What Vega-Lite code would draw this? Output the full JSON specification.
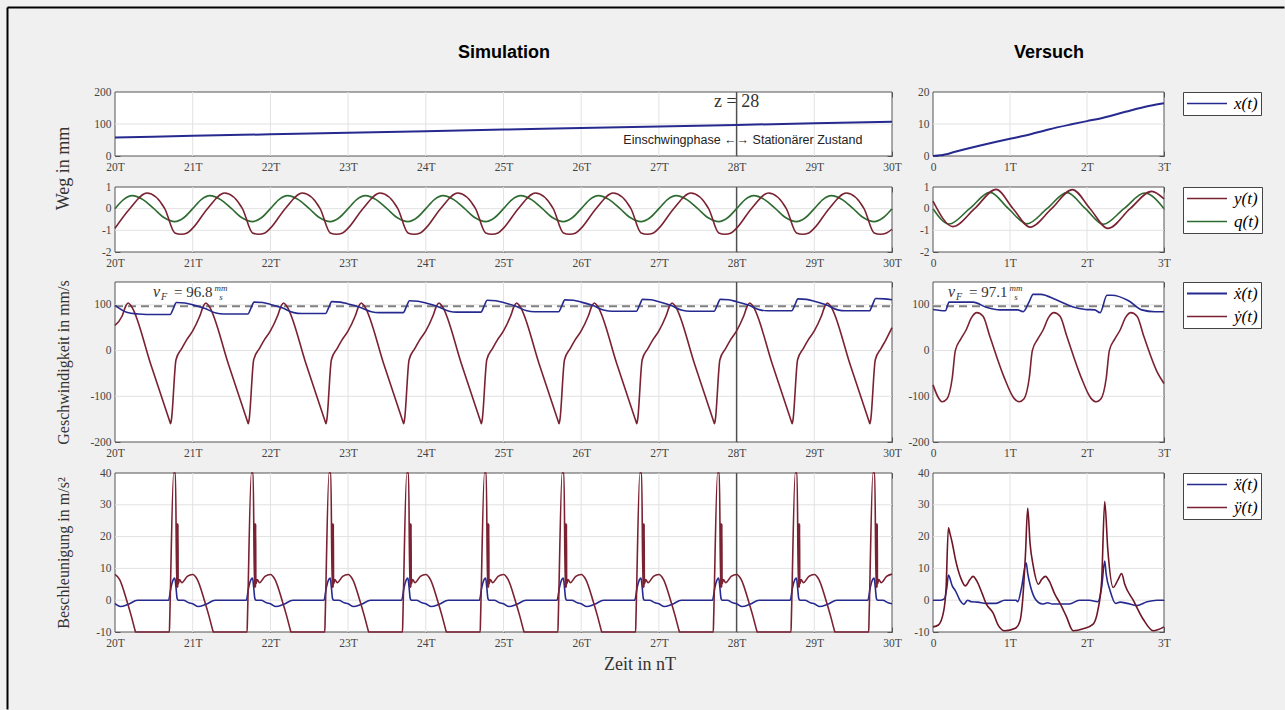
{
"$schema": "https://vega.github.io/schema/vega-lite/v6.json",
"width": 1285, "height": 710,
"autosize": {"type": "fit", "contains": "padding"},
"padding": 0,
"background": "#f0f0f0",
"config": {
  "view": {"stroke": null},
  "axis": {"domain": false, "grid": false, "labelFont": "Liberation Serif", "labelFontSize": 11.5, "labelColor": "#444", "tickColor": "#555", "tickSize": -5, "tickWidth": 1, "labelPadding": 9, "zindex": 1, "labelFlush": false, "labelOverlap": false, "titleFont": "Liberation Serif", "titleFontWeight": "normal", "titleFontSize": 17, "titleColor": "#333", "titleBaseline": "alphabetic"},
  "axisBottom": {"labelPadding": 10},
  "line": {"interpolate": "monotone", "strokeWidth": 1.6},
  "legend": {"orient": "none", "title": null, "symbolType": "stroke", "symbolSize": 1600, "symbolStrokeWidth": 2, "clipHeight": 17, "rowPadding": 5, "padding": 3, "labelOffset": 6, "symbolOffset": 0, "strokeColor": "#444", "fillColor": "white", "labelFont": "Liberation Serif", "labelFontStyle": "italic", "labelFontSize": 17, "labelColor": "#000", "legendX": 1183}
},
"resolve": {"scale": {"x": "independent", "y": "independent", "color": "independent", "strokeWidth": "independent"}},
"datasets": {
  "gxL": [{"t":21},{"t":22},{"t":23},{"t":24},{"t":25},{"t":26},{"t":27},{"t":28},{"t":29}],
  "gxR": [{"t":1},{"t":2}],
  "L1": [{"s":"x(t)","t":20,"v":58},{"s":"x(t)","t":21,"v":62.9},{"s":"x(t)","t":22,"v":67.8},{"s":"x(t)","t":23,"v":72.7},{"s":"x(t)","t":24,"v":77.6},{"s":"x(t)","t":25,"v":82.5},{"s":"x(t)","t":26,"v":87.4},{"s":"x(t)","t":27,"v":92.3},{"s":"x(t)","t":28,"v":97.2},{"s":"x(t)","t":29,"v":102.1},{"s":"x(t)","t":30,"v":107}],
  "R1": [{"s":"x(t)","t":0,"v":0},{"s":"x(t)","t":0.1,"v":0.2},{"s":"x(t)","t":0.3,"v":1.4},{"s":"x(t)","t":0.6,"v":3.2},{"s":"x(t)","t":1,"v":5.4},{"s":"x(t)","t":1.2,"v":6.4},{"s":"x(t)","t":1.5,"v":8.3},{"s":"x(t)","t":1.8,"v":9.9},{"s":"x(t)","t":2,"v":10.9},{"s":"x(t)","t":2.2,"v":11.9},{"s":"x(t)","t":2.5,"v":13.8},{"s":"x(t)","t":2.8,"v":15.6},{"s":"x(t)","t":3,"v":16.5}],
  "L2": [
{"s":"q(t)","t":20,"v":0},{"s":"q(t)","t":20.11,"v":0.42},{"s":"q(t)","t":20.22,"v":0.6},{"s":"q(t)","t":20.36,"v":0.42},{"s":"q(t)","t":20.5,"v":0},{"s":"q(t)","t":20.635,"v":-0.42},{"s":"q(t)","t":20.77,"v":-0.6},{"s":"q(t)","t":20.885,"v":-0.42},
{"s":"q(t)","t":21,"v":0},{"s":"q(t)","t":21.11,"v":0.42},{"s":"q(t)","t":21.22,"v":0.6},{"s":"q(t)","t":21.36,"v":0.42},{"s":"q(t)","t":21.5,"v":0},{"s":"q(t)","t":21.635,"v":-0.42},{"s":"q(t)","t":21.77,"v":-0.6},{"s":"q(t)","t":21.885,"v":-0.42},
{"s":"q(t)","t":22,"v":0},{"s":"q(t)","t":22.11,"v":0.42},{"s":"q(t)","t":22.22,"v":0.6},{"s":"q(t)","t":22.36,"v":0.42},{"s":"q(t)","t":22.5,"v":0},{"s":"q(t)","t":22.635,"v":-0.42},{"s":"q(t)","t":22.77,"v":-0.6},{"s":"q(t)","t":22.885,"v":-0.42},
{"s":"q(t)","t":23,"v":0},{"s":"q(t)","t":23.11,"v":0.42},{"s":"q(t)","t":23.22,"v":0.6},{"s":"q(t)","t":23.36,"v":0.42},{"s":"q(t)","t":23.5,"v":0},{"s":"q(t)","t":23.635,"v":-0.42},{"s":"q(t)","t":23.77,"v":-0.6},{"s":"q(t)","t":23.885,"v":-0.42},
{"s":"q(t)","t":24,"v":0},{"s":"q(t)","t":24.11,"v":0.42},{"s":"q(t)","t":24.22,"v":0.6},{"s":"q(t)","t":24.36,"v":0.42},{"s":"q(t)","t":24.5,"v":0},{"s":"q(t)","t":24.635,"v":-0.42},{"s":"q(t)","t":24.77,"v":-0.6},{"s":"q(t)","t":24.885,"v":-0.42},
{"s":"q(t)","t":25,"v":0},{"s":"q(t)","t":25.11,"v":0.42},{"s":"q(t)","t":25.22,"v":0.6},{"s":"q(t)","t":25.36,"v":0.42},{"s":"q(t)","t":25.5,"v":0},{"s":"q(t)","t":25.635,"v":-0.42},{"s":"q(t)","t":25.77,"v":-0.6},{"s":"q(t)","t":25.885,"v":-0.42},
{"s":"q(t)","t":26,"v":0},{"s":"q(t)","t":26.11,"v":0.42},{"s":"q(t)","t":26.22,"v":0.6},{"s":"q(t)","t":26.36,"v":0.42},{"s":"q(t)","t":26.5,"v":0},{"s":"q(t)","t":26.635,"v":-0.42},{"s":"q(t)","t":26.77,"v":-0.6},{"s":"q(t)","t":26.885,"v":-0.42},
{"s":"q(t)","t":27,"v":0},{"s":"q(t)","t":27.11,"v":0.42},{"s":"q(t)","t":27.22,"v":0.6},{"s":"q(t)","t":27.36,"v":0.42},{"s":"q(t)","t":27.5,"v":0},{"s":"q(t)","t":27.635,"v":-0.42},{"s":"q(t)","t":27.77,"v":-0.6},{"s":"q(t)","t":27.885,"v":-0.42},
{"s":"q(t)","t":28,"v":0},{"s":"q(t)","t":28.11,"v":0.42},{"s":"q(t)","t":28.22,"v":0.6},{"s":"q(t)","t":28.36,"v":0.42},{"s":"q(t)","t":28.5,"v":0},{"s":"q(t)","t":28.635,"v":-0.42},{"s":"q(t)","t":28.77,"v":-0.6},{"s":"q(t)","t":28.885,"v":-0.42},
{"s":"q(t)","t":29,"v":0},{"s":"q(t)","t":29.11,"v":0.42},{"s":"q(t)","t":29.22,"v":0.6},{"s":"q(t)","t":29.36,"v":0.42},{"s":"q(t)","t":29.5,"v":0},{"s":"q(t)","t":29.635,"v":-0.42},{"s":"q(t)","t":29.77,"v":-0.6},{"s":"q(t)","t":29.885,"v":-0.42},
{"s":"q(t)","t":30,"v":0},
{"s":"y(t)","t":20,"v":-0.9},{"s":"y(t)","t":20.19,"v":0},{"s":"y(t)","t":20.41,"v":0.72},{"s":"y(t)","t":20.64,"v":0},{"s":"y(t)","t":20.77,"v":-1.12},{"s":"y(t)","t":20.85,"v":-1.18},{"s":"y(t)","t":20.93,"v":-1.12},
{"s":"y(t)","t":21,"v":-0.9},{"s":"y(t)","t":21.19,"v":0},{"s":"y(t)","t":21.41,"v":0.72},{"s":"y(t)","t":21.64,"v":0},{"s":"y(t)","t":21.77,"v":-1.12},{"s":"y(t)","t":21.85,"v":-1.18},{"s":"y(t)","t":21.93,"v":-1.12},
{"s":"y(t)","t":22,"v":-0.9},{"s":"y(t)","t":22.19,"v":0},{"s":"y(t)","t":22.41,"v":0.72},{"s":"y(t)","t":22.64,"v":0},{"s":"y(t)","t":22.77,"v":-1.12},{"s":"y(t)","t":22.85,"v":-1.18},{"s":"y(t)","t":22.93,"v":-1.12},
{"s":"y(t)","t":23,"v":-0.9},{"s":"y(t)","t":23.19,"v":0},{"s":"y(t)","t":23.41,"v":0.72},{"s":"y(t)","t":23.64,"v":0},{"s":"y(t)","t":23.77,"v":-1.12},{"s":"y(t)","t":23.85,"v":-1.18},{"s":"y(t)","t":23.93,"v":-1.12},
{"s":"y(t)","t":24,"v":-0.9},{"s":"y(t)","t":24.19,"v":0},{"s":"y(t)","t":24.41,"v":0.72},{"s":"y(t)","t":24.64,"v":0},{"s":"y(t)","t":24.77,"v":-1.12},{"s":"y(t)","t":24.85,"v":-1.18},{"s":"y(t)","t":24.93,"v":-1.12},
{"s":"y(t)","t":25,"v":-0.9},{"s":"y(t)","t":25.19,"v":0},{"s":"y(t)","t":25.41,"v":0.72},{"s":"y(t)","t":25.64,"v":0},{"s":"y(t)","t":25.77,"v":-1.12},{"s":"y(t)","t":25.85,"v":-1.18},{"s":"y(t)","t":25.93,"v":-1.12},
{"s":"y(t)","t":26,"v":-0.9},{"s":"y(t)","t":26.19,"v":0},{"s":"y(t)","t":26.41,"v":0.72},{"s":"y(t)","t":26.64,"v":0},{"s":"y(t)","t":26.77,"v":-1.12},{"s":"y(t)","t":26.85,"v":-1.18},{"s":"y(t)","t":26.93,"v":-1.12},
{"s":"y(t)","t":27,"v":-0.9},{"s":"y(t)","t":27.19,"v":0},{"s":"y(t)","t":27.41,"v":0.72},{"s":"y(t)","t":27.64,"v":0},{"s":"y(t)","t":27.77,"v":-1.12},{"s":"y(t)","t":27.85,"v":-1.18},{"s":"y(t)","t":27.93,"v":-1.12},
{"s":"y(t)","t":28,"v":-0.9},{"s":"y(t)","t":28.19,"v":0},{"s":"y(t)","t":28.41,"v":0.72},{"s":"y(t)","t":28.64,"v":0},{"s":"y(t)","t":28.77,"v":-1.12},{"s":"y(t)","t":28.85,"v":-1.18},{"s":"y(t)","t":28.93,"v":-1.12},
{"s":"y(t)","t":29,"v":-0.9},{"s":"y(t)","t":29.19,"v":0},{"s":"y(t)","t":29.41,"v":0.72},{"s":"y(t)","t":29.64,"v":0},{"s":"y(t)","t":29.77,"v":-1.12},{"s":"y(t)","t":29.85,"v":-1.18},{"s":"y(t)","t":29.93,"v":-1.12},
{"s":"y(t)","t":30,"v":-0.95}],
  "R2": [
{"s":"q(t)","t":0,"v":0},{"s":"q(t)","t":0.21,"v":-0.71},{"s":"q(t)","t":0.475,"v":0},{"s":"q(t)","t":0.74,"v":0.75},{"s":"q(t)","t":0.98,"v":0},{"s":"q(t)","t":1.22,"v":-0.7},{"s":"q(t)","t":1.48,"v":0},{"s":"q(t)","t":1.74,"v":0.74},{"s":"q(t)","t":1.98,"v":0},{"s":"q(t)","t":2.21,"v":-0.72},{"s":"q(t)","t":2.48,"v":0},{"s":"q(t)","t":2.75,"v":0.72},{"s":"q(t)","t":3,"v":0},
{"s":"y(t)","t":0,"v":0.35},{"s":"y(t)","t":0.26,"v":-0.83},{"s":"y(t)","t":0.54,"v":0},{"s":"y(t)","t":0.82,"v":0.89},{"s":"y(t)","t":1.04,"v":0},{"s":"y(t)","t":1.26,"v":-0.85},{"s":"y(t)","t":1.54,"v":0},{"s":"y(t)","t":1.81,"v":0.88},{"s":"y(t)","t":2.04,"v":0},{"s":"y(t)","t":2.27,"v":-0.91},{"s":"y(t)","t":2.56,"v":0},{"s":"y(t)","t":2.84,"v":0.8},{"s":"y(t)","t":3,"v":0.45}],
  "L3": [
{"s":"ẏ(t)","t":20,"v":55},{"s":"ẏ(t)","t":20.09,"v":75},{"s":"ẏ(t)","t":20.14,"v":98},{"s":"ẏ(t)","t":20.17,"v":104},{"s":"ẏ(t)","t":20.21,"v":97},{"s":"ẏ(t)","t":20.46,"v":-30},{"s":"ẏ(t)","t":20.705,"v":-155},{"s":"ẏ(t)","t":20.715,"v":-160},{"s":"ẏ(t)","t":20.727,"v":-150},{"s":"ẏ(t)","t":20.785,"v":-20},{"s":"ẏ(t)","t":20.86,"v":5},{"s":"ẏ(t)","t":20.92,"v":23},
{"s":"ẏ(t)","t":21,"v":43},{"s":"ẏ(t)","t":21.09,"v":75},{"s":"ẏ(t)","t":21.14,"v":98},{"s":"ẏ(t)","t":21.17,"v":104},{"s":"ẏ(t)","t":21.21,"v":97},{"s":"ẏ(t)","t":21.46,"v":-30},{"s":"ẏ(t)","t":21.705,"v":-155},{"s":"ẏ(t)","t":21.715,"v":-160},{"s":"ẏ(t)","t":21.727,"v":-150},{"s":"ẏ(t)","t":21.785,"v":-20},{"s":"ẏ(t)","t":21.86,"v":5},{"s":"ẏ(t)","t":21.92,"v":23},
{"s":"ẏ(t)","t":22,"v":43},{"s":"ẏ(t)","t":22.09,"v":75},{"s":"ẏ(t)","t":22.14,"v":98},{"s":"ẏ(t)","t":22.17,"v":104},{"s":"ẏ(t)","t":22.21,"v":97},{"s":"ẏ(t)","t":22.46,"v":-30},{"s":"ẏ(t)","t":22.705,"v":-155},{"s":"ẏ(t)","t":22.715,"v":-160},{"s":"ẏ(t)","t":22.727,"v":-150},{"s":"ẏ(t)","t":22.785,"v":-20},{"s":"ẏ(t)","t":22.86,"v":5},{"s":"ẏ(t)","t":22.92,"v":23},
{"s":"ẏ(t)","t":23,"v":43},{"s":"ẏ(t)","t":23.09,"v":75},{"s":"ẏ(t)","t":23.14,"v":98},{"s":"ẏ(t)","t":23.17,"v":104},{"s":"ẏ(t)","t":23.21,"v":97},{"s":"ẏ(t)","t":23.46,"v":-30},{"s":"ẏ(t)","t":23.705,"v":-155},{"s":"ẏ(t)","t":23.715,"v":-160},{"s":"ẏ(t)","t":23.727,"v":-150},{"s":"ẏ(t)","t":23.785,"v":-20},{"s":"ẏ(t)","t":23.86,"v":5},{"s":"ẏ(t)","t":23.92,"v":23},
{"s":"ẏ(t)","t":24,"v":43},{"s":"ẏ(t)","t":24.09,"v":75},{"s":"ẏ(t)","t":24.14,"v":98},{"s":"ẏ(t)","t":24.17,"v":104},{"s":"ẏ(t)","t":24.21,"v":97},{"s":"ẏ(t)","t":24.46,"v":-30},{"s":"ẏ(t)","t":24.705,"v":-155},{"s":"ẏ(t)","t":24.715,"v":-160},{"s":"ẏ(t)","t":24.727,"v":-150},{"s":"ẏ(t)","t":24.785,"v":-20},{"s":"ẏ(t)","t":24.86,"v":5},{"s":"ẏ(t)","t":24.92,"v":23},
{"s":"ẏ(t)","t":25,"v":43},{"s":"ẏ(t)","t":25.09,"v":75},{"s":"ẏ(t)","t":25.14,"v":98},{"s":"ẏ(t)","t":25.17,"v":104},{"s":"ẏ(t)","t":25.21,"v":97},{"s":"ẏ(t)","t":25.46,"v":-30},{"s":"ẏ(t)","t":25.705,"v":-155},{"s":"ẏ(t)","t":25.715,"v":-160},{"s":"ẏ(t)","t":25.727,"v":-150},{"s":"ẏ(t)","t":25.785,"v":-20},{"s":"ẏ(t)","t":25.86,"v":5},{"s":"ẏ(t)","t":25.92,"v":23},
{"s":"ẏ(t)","t":26,"v":43},{"s":"ẏ(t)","t":26.09,"v":75},{"s":"ẏ(t)","t":26.14,"v":98},{"s":"ẏ(t)","t":26.17,"v":104},{"s":"ẏ(t)","t":26.21,"v":97},{"s":"ẏ(t)","t":26.46,"v":-30},{"s":"ẏ(t)","t":26.705,"v":-155},{"s":"ẏ(t)","t":26.715,"v":-160},{"s":"ẏ(t)","t":26.727,"v":-150},{"s":"ẏ(t)","t":26.785,"v":-20},{"s":"ẏ(t)","t":26.86,"v":5},{"s":"ẏ(t)","t":26.92,"v":23},
{"s":"ẏ(t)","t":27,"v":43},{"s":"ẏ(t)","t":27.09,"v":75},{"s":"ẏ(t)","t":27.14,"v":98},{"s":"ẏ(t)","t":27.17,"v":104},{"s":"ẏ(t)","t":27.21,"v":97},{"s":"ẏ(t)","t":27.46,"v":-30},{"s":"ẏ(t)","t":27.705,"v":-155},{"s":"ẏ(t)","t":27.715,"v":-160},{"s":"ẏ(t)","t":27.727,"v":-150},{"s":"ẏ(t)","t":27.785,"v":-20},{"s":"ẏ(t)","t":27.86,"v":5},{"s":"ẏ(t)","t":27.92,"v":23},
{"s":"ẏ(t)","t":28,"v":43},{"s":"ẏ(t)","t":28.09,"v":75},{"s":"ẏ(t)","t":28.14,"v":98},{"s":"ẏ(t)","t":28.17,"v":104},{"s":"ẏ(t)","t":28.21,"v":97},{"s":"ẏ(t)","t":28.46,"v":-30},{"s":"ẏ(t)","t":28.705,"v":-155},{"s":"ẏ(t)","t":28.715,"v":-160},{"s":"ẏ(t)","t":28.727,"v":-150},{"s":"ẏ(t)","t":28.785,"v":-20},{"s":"ẏ(t)","t":28.86,"v":5},{"s":"ẏ(t)","t":28.92,"v":23},
{"s":"ẏ(t)","t":29,"v":43},{"s":"ẏ(t)","t":29.09,"v":75},{"s":"ẏ(t)","t":29.14,"v":98},{"s":"ẏ(t)","t":29.17,"v":104},{"s":"ẏ(t)","t":29.21,"v":97},{"s":"ẏ(t)","t":29.46,"v":-30},{"s":"ẏ(t)","t":29.705,"v":-155},{"s":"ẏ(t)","t":29.715,"v":-160},{"s":"ẏ(t)","t":29.727,"v":-150},{"s":"ẏ(t)","t":29.785,"v":-20},{"s":"ẏ(t)","t":29.86,"v":5},{"s":"ẏ(t)","t":29.92,"v":23},
{"s":"ẏ(t)","t":30,"v":50},
{"s":"ẋ(t)","t":20,"v":99},{"s":"ẋ(t)","t":20.15,"v":84},{"s":"ẋ(t)","t":20.3,"v":80},{"s":"ẋ(t)","t":20.4,"v":79},{"s":"ẋ(t)","t":20.71,"v":79},{"s":"ẋ(t)","t":20.75,"v":92},{"s":"ẋ(t)","t":20.79,"v":105},{"s":"ẋ(t)","t":20.9,"v":104},
{"s":"ẋ(t)","t":21,"v":100},{"s":"ẋ(t)","t":21.15,"v":92.5},{"s":"ẋ(t)","t":21.3,"v":82},{"s":"ẋ(t)","t":21.4,"v":80},{"s":"ẋ(t)","t":21.71,"v":80},{"s":"ẋ(t)","t":21.75,"v":93},{"s":"ẋ(t)","t":21.79,"v":106},{"s":"ẋ(t)","t":21.9,"v":105},
{"s":"ẋ(t)","t":22,"v":101},{"s":"ẋ(t)","t":22.15,"v":93.5},{"s":"ẋ(t)","t":22.3,"v":83},{"s":"ẋ(t)","t":22.4,"v":81},{"s":"ẋ(t)","t":22.71,"v":81},{"s":"ẋ(t)","t":22.75,"v":94},{"s":"ẋ(t)","t":22.79,"v":107},{"s":"ẋ(t)","t":22.9,"v":106},
{"s":"ẋ(t)","t":23,"v":102},{"s":"ẋ(t)","t":23.15,"v":95},{"s":"ẋ(t)","t":23.3,"v":85},{"s":"ẋ(t)","t":23.4,"v":83},{"s":"ẋ(t)","t":23.71,"v":83},{"s":"ẋ(t)","t":23.75,"v":96},{"s":"ẋ(t)","t":23.79,"v":109},{"s":"ẋ(t)","t":23.9,"v":108},
{"s":"ẋ(t)","t":24,"v":104},{"s":"ẋ(t)","t":24.15,"v":96.5},{"s":"ẋ(t)","t":24.3,"v":86},{"s":"ẋ(t)","t":24.4,"v":84},{"s":"ẋ(t)","t":24.71,"v":84},{"s":"ẋ(t)","t":24.75,"v":97},{"s":"ẋ(t)","t":24.79,"v":110},{"s":"ẋ(t)","t":24.9,"v":109},
{"s":"ẋ(t)","t":25,"v":105},{"s":"ẋ(t)","t":25.15,"v":97.5},{"s":"ẋ(t)","t":25.3,"v":87},{"s":"ẋ(t)","t":25.4,"v":85},{"s":"ẋ(t)","t":25.71,"v":85},{"s":"ẋ(t)","t":25.75,"v":98},{"s":"ẋ(t)","t":25.79,"v":111},{"s":"ẋ(t)","t":25.9,"v":110},
{"s":"ẋ(t)","t":26,"v":106},{"s":"ẋ(t)","t":26.15,"v":98.5},{"s":"ẋ(t)","t":26.3,"v":88},{"s":"ẋ(t)","t":26.4,"v":86},{"s":"ẋ(t)","t":26.71,"v":86},{"s":"ẋ(t)","t":26.75,"v":99},{"s":"ẋ(t)","t":26.79,"v":112},{"s":"ẋ(t)","t":26.9,"v":111},
{"s":"ẋ(t)","t":27,"v":107},{"s":"ẋ(t)","t":27.15,"v":99},{"s":"ẋ(t)","t":27.3,"v":88},{"s":"ẋ(t)","t":27.4,"v":86},{"s":"ẋ(t)","t":27.71,"v":86},{"s":"ẋ(t)","t":27.75,"v":99},{"s":"ẋ(t)","t":27.79,"v":112},{"s":"ẋ(t)","t":27.9,"v":111},
{"s":"ẋ(t)","t":28,"v":107},{"s":"ẋ(t)","t":28.15,"v":99.5},{"s":"ẋ(t)","t":28.3,"v":89},{"s":"ẋ(t)","t":28.4,"v":87},{"s":"ẋ(t)","t":28.71,"v":87},{"s":"ẋ(t)","t":28.75,"v":100},{"s":"ẋ(t)","t":28.79,"v":113},{"s":"ẋ(t)","t":28.9,"v":112},
{"s":"ẋ(t)","t":29,"v":108},{"s":"ẋ(t)","t":29.15,"v":100},{"s":"ẋ(t)","t":29.3,"v":89},{"s":"ẋ(t)","t":29.4,"v":87},{"s":"ẋ(t)","t":29.71,"v":87},{"s":"ẋ(t)","t":29.75,"v":100.5},{"s":"ẋ(t)","t":29.79,"v":114},{"s":"ẋ(t)","t":29.9,"v":113},
{"s":"ẋ(t)","t":30,"v":111}],
  "R3": [
{"s":"ẏ(t)","t":0,"v":-75},{"s":"ẏ(t)","t":0.12,"v":-112},{"s":"ẏ(t)","t":0.18,"v":-106},{"s":"ẏ(t)","t":0.25,"v":-60},{"s":"ẏ(t)","t":0.29,"v":0},{"s":"ẏ(t)","t":0.36,"v":25},{"s":"ẏ(t)","t":0.43,"v":45},{"s":"ẏ(t)","t":0.5,"v":72},{"s":"ẏ(t)","t":0.57,"v":83},{"s":"ẏ(t)","t":0.65,"v":75},{"s":"ẏ(t)","t":0.74,"v":30},{"s":"ẏ(t)","t":0.92,"v":-57},
{"s":"ẏ(t)","t":1.05,"v":-104},{"s":"ẏ(t)","t":1.12,"v":-112},{"s":"ẏ(t)","t":1.18,"v":-106},{"s":"ẏ(t)","t":1.25,"v":-60},{"s":"ẏ(t)","t":1.29,"v":0},{"s":"ẏ(t)","t":1.36,"v":25},{"s":"ẏ(t)","t":1.43,"v":45},{"s":"ẏ(t)","t":1.5,"v":72},{"s":"ẏ(t)","t":1.57,"v":83},{"s":"ẏ(t)","t":1.65,"v":75},{"s":"ẏ(t)","t":1.74,"v":30},{"s":"ẏ(t)","t":1.92,"v":-57},
{"s":"ẏ(t)","t":2.05,"v":-104},{"s":"ẏ(t)","t":2.12,"v":-112},{"s":"ẏ(t)","t":2.18,"v":-106},{"s":"ẏ(t)","t":2.25,"v":-60},{"s":"ẏ(t)","t":2.29,"v":0},{"s":"ẏ(t)","t":2.36,"v":25},{"s":"ẏ(t)","t":2.43,"v":45},{"s":"ẏ(t)","t":2.5,"v":72},{"s":"ẏ(t)","t":2.57,"v":83},{"s":"ẏ(t)","t":2.65,"v":75},{"s":"ẏ(t)","t":2.74,"v":30},{"s":"ẏ(t)","t":2.92,"v":-50},{"s":"ẏ(t)","t":3,"v":-72},
{"s":"ẋ(t)","t":0,"v":90},{"s":"ẋ(t)","t":0.16,"v":87},{"s":"ẋ(t)","t":0.21,"v":106},{"s":"ẋ(t)","t":0.52,"v":106},{"s":"ẋ(t)","t":0.69,"v":95},{"s":"ẋ(t)","t":0.87,"v":89},{"s":"ẋ(t)","t":1.1,"v":89},{"s":"ẋ(t)","t":1.17,"v":85},{"s":"ẋ(t)","t":1.25,"v":107},{"s":"ẋ(t)","t":1.3,"v":123},{"s":"ẋ(t)","t":1.4,"v":123},{"s":"ẋ(t)","t":1.6,"v":111},{"s":"ẋ(t)","t":1.81,"v":96},{"s":"ẋ(t)","t":1.98,"v":90},{"s":"ẋ(t)","t":2.1,"v":89},{"s":"ẋ(t)","t":2.17,"v":83},{"s":"ẋ(t)","t":2.26,"v":121},{"s":"ẋ(t)","t":2.32,"v":121},{"s":"ẋ(t)","t":2.54,"v":109},{"s":"ẋ(t)","t":2.71,"v":89},{"s":"ẋ(t)","t":2.88,"v":85},{"s":"ẋ(t)","t":3,"v":85}],
  "L4": [
{"s":"ẍ(t)","t":20,"v":-1.1},{"s":"ẍ(t)","t":20.07,"v":-2},{"s":"ẍ(t)","t":20.17,"v":-1.3},{"s":"ẍ(t)","t":20.29,"v":0},{"s":"ẍ(t)","t":20.69,"v":0},{"s":"ẍ(t)","t":20.72,"v":4},{"s":"ẍ(t)","t":20.75,"v":6.5},{"s":"ẍ(t)","t":20.77,"v":7},{"s":"ẍ(t)","t":20.785,"v":4},{"s":"ẍ(t)","t":20.8,"v":0.5},{"s":"ẍ(t)","t":20.815,"v":0},{"s":"ẍ(t)","t":20.88,"v":0},{"s":"ẍ(t)","t":20.95,"v":-0.8},
{"s":"ẍ(t)","t":21,"v":-1.1},{"s":"ẍ(t)","t":21.07,"v":-2},{"s":"ẍ(t)","t":21.17,"v":-1.3},{"s":"ẍ(t)","t":21.29,"v":0},{"s":"ẍ(t)","t":21.69,"v":0},{"s":"ẍ(t)","t":21.72,"v":4},{"s":"ẍ(t)","t":21.75,"v":6.5},{"s":"ẍ(t)","t":21.77,"v":7},{"s":"ẍ(t)","t":21.785,"v":4},{"s":"ẍ(t)","t":21.8,"v":0.5},{"s":"ẍ(t)","t":21.815,"v":0},{"s":"ẍ(t)","t":21.88,"v":0},{"s":"ẍ(t)","t":21.95,"v":-0.8},
{"s":"ẍ(t)","t":22,"v":-1.1},{"s":"ẍ(t)","t":22.07,"v":-2},{"s":"ẍ(t)","t":22.17,"v":-1.3},{"s":"ẍ(t)","t":22.29,"v":0},{"s":"ẍ(t)","t":22.69,"v":0},{"s":"ẍ(t)","t":22.72,"v":4},{"s":"ẍ(t)","t":22.75,"v":6.5},{"s":"ẍ(t)","t":22.77,"v":7},{"s":"ẍ(t)","t":22.785,"v":4},{"s":"ẍ(t)","t":22.8,"v":0.5},{"s":"ẍ(t)","t":22.815,"v":0},{"s":"ẍ(t)","t":22.88,"v":0},{"s":"ẍ(t)","t":22.95,"v":-0.8},
{"s":"ẍ(t)","t":23,"v":-1.1},{"s":"ẍ(t)","t":23.07,"v":-2},{"s":"ẍ(t)","t":23.17,"v":-1.3},{"s":"ẍ(t)","t":23.29,"v":0},{"s":"ẍ(t)","t":23.69,"v":0},{"s":"ẍ(t)","t":23.72,"v":4},{"s":"ẍ(t)","t":23.75,"v":6.5},{"s":"ẍ(t)","t":23.77,"v":7},{"s":"ẍ(t)","t":23.785,"v":4},{"s":"ẍ(t)","t":23.8,"v":0.5},{"s":"ẍ(t)","t":23.815,"v":0},{"s":"ẍ(t)","t":23.88,"v":0},{"s":"ẍ(t)","t":23.95,"v":-0.8},
{"s":"ẍ(t)","t":24,"v":-1.1},{"s":"ẍ(t)","t":24.07,"v":-2},{"s":"ẍ(t)","t":24.17,"v":-1.3},{"s":"ẍ(t)","t":24.29,"v":0},{"s":"ẍ(t)","t":24.69,"v":0},{"s":"ẍ(t)","t":24.72,"v":4},{"s":"ẍ(t)","t":24.75,"v":6.5},{"s":"ẍ(t)","t":24.77,"v":7},{"s":"ẍ(t)","t":24.785,"v":4},{"s":"ẍ(t)","t":24.8,"v":0.5},{"s":"ẍ(t)","t":24.815,"v":0},{"s":"ẍ(t)","t":24.88,"v":0},{"s":"ẍ(t)","t":24.95,"v":-0.8},
{"s":"ẍ(t)","t":25,"v":-1.1},{"s":"ẍ(t)","t":25.07,"v":-2},{"s":"ẍ(t)","t":25.17,"v":-1.3},{"s":"ẍ(t)","t":25.29,"v":0},{"s":"ẍ(t)","t":25.69,"v":0},{"s":"ẍ(t)","t":25.72,"v":4},{"s":"ẍ(t)","t":25.75,"v":6.5},{"s":"ẍ(t)","t":25.77,"v":7},{"s":"ẍ(t)","t":25.785,"v":4},{"s":"ẍ(t)","t":25.8,"v":0.5},{"s":"ẍ(t)","t":25.815,"v":0},{"s":"ẍ(t)","t":25.88,"v":0},{"s":"ẍ(t)","t":25.95,"v":-0.8},
{"s":"ẍ(t)","t":26,"v":-1.1},{"s":"ẍ(t)","t":26.07,"v":-2},{"s":"ẍ(t)","t":26.17,"v":-1.3},{"s":"ẍ(t)","t":26.29,"v":0},{"s":"ẍ(t)","t":26.69,"v":0},{"s":"ẍ(t)","t":26.72,"v":4},{"s":"ẍ(t)","t":26.75,"v":6.5},{"s":"ẍ(t)","t":26.77,"v":7},{"s":"ẍ(t)","t":26.785,"v":4},{"s":"ẍ(t)","t":26.8,"v":0.5},{"s":"ẍ(t)","t":26.815,"v":0},{"s":"ẍ(t)","t":26.88,"v":0},{"s":"ẍ(t)","t":26.95,"v":-0.8},
{"s":"ẍ(t)","t":27,"v":-1.1},{"s":"ẍ(t)","t":27.07,"v":-2},{"s":"ẍ(t)","t":27.17,"v":-1.3},{"s":"ẍ(t)","t":27.29,"v":0},{"s":"ẍ(t)","t":27.69,"v":0},{"s":"ẍ(t)","t":27.72,"v":4},{"s":"ẍ(t)","t":27.75,"v":6.5},{"s":"ẍ(t)","t":27.77,"v":7},{"s":"ẍ(t)","t":27.785,"v":4},{"s":"ẍ(t)","t":27.8,"v":0.5},{"s":"ẍ(t)","t":27.815,"v":0},{"s":"ẍ(t)","t":27.88,"v":0},{"s":"ẍ(t)","t":27.95,"v":-0.8},
{"s":"ẍ(t)","t":28,"v":-1.1},{"s":"ẍ(t)","t":28.07,"v":-2},{"s":"ẍ(t)","t":28.17,"v":-1.3},{"s":"ẍ(t)","t":28.29,"v":0},{"s":"ẍ(t)","t":28.69,"v":0},{"s":"ẍ(t)","t":28.72,"v":4},{"s":"ẍ(t)","t":28.75,"v":6.5},{"s":"ẍ(t)","t":28.77,"v":7},{"s":"ẍ(t)","t":28.785,"v":4},{"s":"ẍ(t)","t":28.8,"v":0.5},{"s":"ẍ(t)","t":28.815,"v":0},{"s":"ẍ(t)","t":28.88,"v":0},{"s":"ẍ(t)","t":28.95,"v":-0.8},
{"s":"ẍ(t)","t":29,"v":-1.1},{"s":"ẍ(t)","t":29.07,"v":-2},{"s":"ẍ(t)","t":29.17,"v":-1.3},{"s":"ẍ(t)","t":29.29,"v":0},{"s":"ẍ(t)","t":29.69,"v":0},{"s":"ẍ(t)","t":29.72,"v":4},{"s":"ẍ(t)","t":29.75,"v":6.5},{"s":"ẍ(t)","t":29.77,"v":7},{"s":"ẍ(t)","t":29.785,"v":4},{"s":"ẍ(t)","t":29.8,"v":0.5},{"s":"ẍ(t)","t":29.815,"v":0},{"s":"ẍ(t)","t":29.88,"v":0},{"s":"ẍ(t)","t":29.95,"v":-0.8},
{"s":"ẍ(t)","t":30,"v":-1.1},
{"s":"ÿ(t)","t":20,"v":8.1},{"s":"ÿ(t)","t":20.06,"v":6.5},{"s":"ÿ(t)","t":20.15,"v":0},{"s":"ÿ(t)","t":20.21,"v":-5},{"s":"ÿ(t)","t":20.26,"v":-9.6},{"s":"ÿ(t)","t":20.265,"v":-10},{"s":"ÿ(t)","t":20.7,"v":-10},{"s":"ÿ(t)","t":20.705,"v":-5.5},{"s":"ÿ(t)","t":20.755,"v":40},{"s":"ÿ(t)","t":20.778,"v":40},{"s":"ÿ(t)","t":20.795,"v":4},{"s":"ÿ(t)","t":20.798,"v":24},{"s":"ÿ(t)","t":20.801,"v":4},{"s":"ÿ(t)","t":20.804,"v":24},{"s":"ÿ(t)","t":20.807,"v":4},{"s":"ÿ(t)","t":20.81,"v":24},{"s":"ÿ(t)","t":20.813,"v":5},{"s":"ÿ(t)","t":20.83,"v":6.5},{"s":"ÿ(t)","t":20.86,"v":5.5},{"s":"ÿ(t)","t":20.93,"v":7.5},
{"s":"ÿ(t)","t":21,"v":8.1},{"s":"ÿ(t)","t":21.06,"v":6.5},{"s":"ÿ(t)","t":21.15,"v":0},{"s":"ÿ(t)","t":21.21,"v":-5},{"s":"ÿ(t)","t":21.26,"v":-9.6},{"s":"ÿ(t)","t":21.265,"v":-10},{"s":"ÿ(t)","t":21.7,"v":-10},{"s":"ÿ(t)","t":21.705,"v":-5.5},{"s":"ÿ(t)","t":21.755,"v":40},{"s":"ÿ(t)","t":21.778,"v":40},{"s":"ÿ(t)","t":21.795,"v":4},{"s":"ÿ(t)","t":21.798,"v":24},{"s":"ÿ(t)","t":21.801,"v":4},{"s":"ÿ(t)","t":21.804,"v":24},{"s":"ÿ(t)","t":21.807,"v":4},{"s":"ÿ(t)","t":21.81,"v":24},{"s":"ÿ(t)","t":21.813,"v":5},{"s":"ÿ(t)","t":21.83,"v":6.5},{"s":"ÿ(t)","t":21.86,"v":5.5},{"s":"ÿ(t)","t":21.93,"v":7.5},
{"s":"ÿ(t)","t":22,"v":8.1},{"s":"ÿ(t)","t":22.06,"v":6.5},{"s":"ÿ(t)","t":22.15,"v":0},{"s":"ÿ(t)","t":22.21,"v":-5},{"s":"ÿ(t)","t":22.26,"v":-9.6},{"s":"ÿ(t)","t":22.265,"v":-10},{"s":"ÿ(t)","t":22.7,"v":-10},{"s":"ÿ(t)","t":22.705,"v":-5.5},{"s":"ÿ(t)","t":22.755,"v":40},{"s":"ÿ(t)","t":22.778,"v":40},{"s":"ÿ(t)","t":22.795,"v":4},{"s":"ÿ(t)","t":22.798,"v":24},{"s":"ÿ(t)","t":22.801,"v":4},{"s":"ÿ(t)","t":22.804,"v":24},{"s":"ÿ(t)","t":22.807,"v":4},{"s":"ÿ(t)","t":22.81,"v":24},{"s":"ÿ(t)","t":22.813,"v":5},{"s":"ÿ(t)","t":22.83,"v":6.5},{"s":"ÿ(t)","t":22.86,"v":5.5},{"s":"ÿ(t)","t":22.93,"v":7.5},
{"s":"ÿ(t)","t":23,"v":8.1},{"s":"ÿ(t)","t":23.06,"v":6.5},{"s":"ÿ(t)","t":23.15,"v":0},{"s":"ÿ(t)","t":23.21,"v":-5},{"s":"ÿ(t)","t":23.26,"v":-9.6},{"s":"ÿ(t)","t":23.265,"v":-10},{"s":"ÿ(t)","t":23.7,"v":-10},{"s":"ÿ(t)","t":23.705,"v":-5.5},{"s":"ÿ(t)","t":23.755,"v":40},{"s":"ÿ(t)","t":23.778,"v":40},{"s":"ÿ(t)","t":23.795,"v":4},{"s":"ÿ(t)","t":23.798,"v":24},{"s":"ÿ(t)","t":23.801,"v":4},{"s":"ÿ(t)","t":23.804,"v":24},{"s":"ÿ(t)","t":23.807,"v":4},{"s":"ÿ(t)","t":23.81,"v":24},{"s":"ÿ(t)","t":23.813,"v":5},{"s":"ÿ(t)","t":23.83,"v":6.5},{"s":"ÿ(t)","t":23.86,"v":5.5},{"s":"ÿ(t)","t":23.93,"v":7.5},
{"s":"ÿ(t)","t":24,"v":8.1},{"s":"ÿ(t)","t":24.06,"v":6.5},{"s":"ÿ(t)","t":24.15,"v":0},{"s":"ÿ(t)","t":24.21,"v":-5},{"s":"ÿ(t)","t":24.26,"v":-9.6},{"s":"ÿ(t)","t":24.265,"v":-10},{"s":"ÿ(t)","t":24.7,"v":-10},{"s":"ÿ(t)","t":24.705,"v":-5.5},{"s":"ÿ(t)","t":24.755,"v":40},{"s":"ÿ(t)","t":24.778,"v":40},{"s":"ÿ(t)","t":24.795,"v":4},{"s":"ÿ(t)","t":24.798,"v":24},{"s":"ÿ(t)","t":24.801,"v":4},{"s":"ÿ(t)","t":24.804,"v":24},{"s":"ÿ(t)","t":24.807,"v":4},{"s":"ÿ(t)","t":24.81,"v":24},{"s":"ÿ(t)","t":24.813,"v":5},{"s":"ÿ(t)","t":24.83,"v":6.5},{"s":"ÿ(t)","t":24.86,"v":5.5},{"s":"ÿ(t)","t":24.93,"v":7.5},
{"s":"ÿ(t)","t":25,"v":8.1},{"s":"ÿ(t)","t":25.06,"v":6.5},{"s":"ÿ(t)","t":25.15,"v":0},{"s":"ÿ(t)","t":25.21,"v":-5},{"s":"ÿ(t)","t":25.26,"v":-9.6},{"s":"ÿ(t)","t":25.265,"v":-10},{"s":"ÿ(t)","t":25.7,"v":-10},{"s":"ÿ(t)","t":25.705,"v":-5.5},{"s":"ÿ(t)","t":25.755,"v":40},{"s":"ÿ(t)","t":25.778,"v":40},{"s":"ÿ(t)","t":25.795,"v":4},{"s":"ÿ(t)","t":25.798,"v":24},{"s":"ÿ(t)","t":25.801,"v":4},{"s":"ÿ(t)","t":25.804,"v":24},{"s":"ÿ(t)","t":25.807,"v":4},{"s":"ÿ(t)","t":25.81,"v":24},{"s":"ÿ(t)","t":25.813,"v":5},{"s":"ÿ(t)","t":25.83,"v":6.5},{"s":"ÿ(t)","t":25.86,"v":5.5},{"s":"ÿ(t)","t":25.93,"v":7.5},
{"s":"ÿ(t)","t":26,"v":8.1},{"s":"ÿ(t)","t":26.06,"v":6.5},{"s":"ÿ(t)","t":26.15,"v":0},{"s":"ÿ(t)","t":26.21,"v":-5},{"s":"ÿ(t)","t":26.26,"v":-9.6},{"s":"ÿ(t)","t":26.265,"v":-10},{"s":"ÿ(t)","t":26.7,"v":-10},{"s":"ÿ(t)","t":26.705,"v":-5.5},{"s":"ÿ(t)","t":26.755,"v":40},{"s":"ÿ(t)","t":26.778,"v":40},{"s":"ÿ(t)","t":26.795,"v":4},{"s":"ÿ(t)","t":26.798,"v":24},{"s":"ÿ(t)","t":26.801,"v":4},{"s":"ÿ(t)","t":26.804,"v":24},{"s":"ÿ(t)","t":26.807,"v":4},{"s":"ÿ(t)","t":26.81,"v":24},{"s":"ÿ(t)","t":26.813,"v":5},{"s":"ÿ(t)","t":26.83,"v":6.5},{"s":"ÿ(t)","t":26.86,"v":5.5},{"s":"ÿ(t)","t":26.93,"v":7.5},
{"s":"ÿ(t)","t":27,"v":8.1},{"s":"ÿ(t)","t":27.06,"v":6.5},{"s":"ÿ(t)","t":27.15,"v":0},{"s":"ÿ(t)","t":27.21,"v":-5},{"s":"ÿ(t)","t":27.26,"v":-9.6},{"s":"ÿ(t)","t":27.265,"v":-10},{"s":"ÿ(t)","t":27.7,"v":-10},{"s":"ÿ(t)","t":27.705,"v":-5.5},{"s":"ÿ(t)","t":27.755,"v":40},{"s":"ÿ(t)","t":27.778,"v":40},{"s":"ÿ(t)","t":27.795,"v":4},{"s":"ÿ(t)","t":27.798,"v":24},{"s":"ÿ(t)","t":27.801,"v":4},{"s":"ÿ(t)","t":27.804,"v":24},{"s":"ÿ(t)","t":27.807,"v":4},{"s":"ÿ(t)","t":27.81,"v":24},{"s":"ÿ(t)","t":27.813,"v":5},{"s":"ÿ(t)","t":27.83,"v":6.5},{"s":"ÿ(t)","t":27.86,"v":5.5},{"s":"ÿ(t)","t":27.93,"v":7.5},
{"s":"ÿ(t)","t":28,"v":8.1},{"s":"ÿ(t)","t":28.06,"v":6.5},{"s":"ÿ(t)","t":28.15,"v":0},{"s":"ÿ(t)","t":28.21,"v":-5},{"s":"ÿ(t)","t":28.26,"v":-9.6},{"s":"ÿ(t)","t":28.265,"v":-10},{"s":"ÿ(t)","t":28.7,"v":-10},{"s":"ÿ(t)","t":28.705,"v":-5.5},{"s":"ÿ(t)","t":28.755,"v":40},{"s":"ÿ(t)","t":28.778,"v":40},{"s":"ÿ(t)","t":28.795,"v":4},{"s":"ÿ(t)","t":28.798,"v":24},{"s":"ÿ(t)","t":28.801,"v":4},{"s":"ÿ(t)","t":28.804,"v":24},{"s":"ÿ(t)","t":28.807,"v":4},{"s":"ÿ(t)","t":28.81,"v":24},{"s":"ÿ(t)","t":28.813,"v":5},{"s":"ÿ(t)","t":28.83,"v":6.5},{"s":"ÿ(t)","t":28.86,"v":5.5},{"s":"ÿ(t)","t":28.93,"v":7.5},
{"s":"ÿ(t)","t":29,"v":8.1},{"s":"ÿ(t)","t":29.06,"v":6.5},{"s":"ÿ(t)","t":29.15,"v":0},{"s":"ÿ(t)","t":29.21,"v":-5},{"s":"ÿ(t)","t":29.26,"v":-9.6},{"s":"ÿ(t)","t":29.265,"v":-10},{"s":"ÿ(t)","t":29.7,"v":-10},{"s":"ÿ(t)","t":29.705,"v":-5.5},{"s":"ÿ(t)","t":29.755,"v":40},{"s":"ÿ(t)","t":29.778,"v":40},{"s":"ÿ(t)","t":29.795,"v":4},{"s":"ÿ(t)","t":29.798,"v":24},{"s":"ÿ(t)","t":29.801,"v":4},{"s":"ÿ(t)","t":29.804,"v":24},{"s":"ÿ(t)","t":29.807,"v":4},{"s":"ÿ(t)","t":29.81,"v":24},{"s":"ÿ(t)","t":29.813,"v":5},{"s":"ÿ(t)","t":29.83,"v":6.5},{"s":"ÿ(t)","t":29.86,"v":5.5},{"s":"ÿ(t)","t":29.93,"v":7.5},
{"s":"ÿ(t)","t":30,"v":8.2}],
  "R4": [
{"s":"ẍ(t)","t":0,"v":0},{"s":"ẍ(t)","t":0.1,"v":0},{"s":"ẍ(t)","t":0.15,"v":0.5},{"s":"ẍ(t)","t":0.18,"v":4},{"s":"ẍ(t)","t":0.2,"v":7.9},{"s":"ẍ(t)","t":0.25,"v":4.5},{"s":"ẍ(t)","t":0.29,"v":3},{"s":"ẍ(t)","t":0.36,"v":-0.4},{"s":"ẍ(t)","t":0.4,"v":-1.3},{"s":"ẍ(t)","t":0.45,"v":0},{"s":"ẍ(t)","t":0.5,"v":-0.5},{"s":"ẍ(t)","t":0.58,"v":-0.6},{"s":"ẍ(t)","t":0.69,"v":-1},{"s":"ẍ(t)","t":0.82,"v":-1},{"s":"ẍ(t)","t":0.93,"v":0},{"s":"ẍ(t)","t":1.08,"v":0},{"s":"ẍ(t)","t":1.1,"v":-0.5},{"s":"ẍ(t)","t":1.15,"v":4},{"s":"ẍ(t)","t":1.21,"v":11.8},{"s":"ẍ(t)","t":1.23,"v":8.4},{"s":"ẍ(t)","t":1.27,"v":4},{"s":"ẍ(t)","t":1.34,"v":0},{"s":"ẍ(t)","t":1.42,"v":-1.2},{"s":"ẍ(t)","t":1.49,"v":-0.8},{"s":"ẍ(t)","t":1.55,"v":-1.2},{"s":"ẍ(t)","t":1.77,"v":-1.2},{"s":"ẍ(t)","t":1.9,"v":0},{"s":"ẍ(t)","t":2.03,"v":0},{"s":"ẍ(t)","t":2.14,"v":-0.5},{"s":"ẍ(t)","t":2.19,"v":4},{"s":"ẍ(t)","t":2.23,"v":12.3},{"s":"ẍ(t)","t":2.25,"v":8},{"s":"ẍ(t)","t":2.3,"v":3},{"s":"ẍ(t)","t":2.37,"v":-1},{"s":"ẍ(t)","t":2.43,"v":-0.6},{"s":"ẍ(t)","t":2.52,"v":-1},{"s":"ẍ(t)","t":2.65,"v":-1.7},{"s":"ẍ(t)","t":2.78,"v":-0.5},{"s":"ẍ(t)","t":2.91,"v":0},{"s":"ẍ(t)","t":3,"v":0},
{"s":"ÿ(t)","t":0,"v":-8.4},{"s":"ÿ(t)","t":0.07,"v":-7.8},{"s":"ÿ(t)","t":0.14,"v":-3.3},{"s":"ÿ(t)","t":0.17,"v":4},{"s":"ÿ(t)","t":0.2,"v":22.8},{"s":"ÿ(t)","t":0.22,"v":21},{"s":"ÿ(t)","t":0.25,"v":18},{"s":"ÿ(t)","t":0.29,"v":13},{"s":"ÿ(t)","t":0.36,"v":7},{"s":"ÿ(t)","t":0.42,"v":4.5},{"s":"ÿ(t)","t":0.48,"v":6.5},{"s":"ÿ(t)","t":0.52,"v":7.5},{"s":"ÿ(t)","t":0.57,"v":6},{"s":"ÿ(t)","t":0.64,"v":2},{"s":"ÿ(t)","t":0.69,"v":-1.1},{"s":"ÿ(t)","t":0.78,"v":-4},{"s":"ÿ(t)","t":0.85,"v":-8},{"s":"ÿ(t)","t":0.93,"v":-9.6},{"s":"ÿ(t)","t":1.07,"v":-8.8},{"s":"ÿ(t)","t":1.13,"v":-6.5},{"s":"ÿ(t)","t":1.16,"v":-1.2},{"s":"ÿ(t)","t":1.2,"v":14},{"s":"ÿ(t)","t":1.23,"v":29},{"s":"ÿ(t)","t":1.26,"v":18},{"s":"ÿ(t)","t":1.3,"v":11},{"s":"ÿ(t)","t":1.37,"v":5},{"s":"ÿ(t)","t":1.41,"v":6.5},{"s":"ÿ(t)","t":1.46,"v":7.5},{"s":"ÿ(t)","t":1.51,"v":6},{"s":"ÿ(t)","t":1.58,"v":2},{"s":"ÿ(t)","t":1.65,"v":-1},{"s":"ÿ(t)","t":1.73,"v":-5},{"s":"ÿ(t)","t":1.82,"v":-9.6},{"s":"ÿ(t)","t":1.95,"v":-9},{"s":"ÿ(t)","t":2.08,"v":-7.5},{"s":"ÿ(t)","t":2.14,"v":-3.3},{"s":"ÿ(t)","t":2.19,"v":6},{"s":"ÿ(t)","t":2.23,"v":31},{"s":"ÿ(t)","t":2.27,"v":16},{"s":"ÿ(t)","t":2.34,"v":4},{"s":"ÿ(t)","t":2.4,"v":6.3},{"s":"ÿ(t)","t":2.45,"v":8.4},{"s":"ÿ(t)","t":2.49,"v":5},{"s":"ÿ(t)","t":2.6,"v":0},{"s":"ÿ(t)","t":2.73,"v":-6},{"s":"ÿ(t)","t":2.86,"v":-9.6},{"s":"ÿ(t)","t":3,"v":-8.4}]
},
"layer": [
{"data": {"values": [{}]}, "mark": {"type": "point", "opacity": 0},
 "encoding": {
  "x": {"datum": 0.5, "type": "quantitative", "scale": {"domain": [0, 1], "range": [7, 1284], "nice": false, "zero": false}, "axis": {"orient": "top", "offset": -7, "domain": true, "domainColor": "#000", "domainWidth": 2, "ticks": false, "labels": false, "title": null}},
  "y": {"datum": 0.5, "type": "quantitative", "scale": {"domain": [0, 1], "range": [709, 7], "nice": false, "zero": false}, "axis": {"orient": "left", "offset": -7, "domain": true, "domainColor": "#000", "domainWidth": 2, "ticks": false, "labels": false, "title": null}}}},

{"data": {"values": [{}]}, "mark": {"type": "rect", "fill": "white", "stroke": "#555", "strokeWidth": 1},
 "encoding": {
  "x": {"datum": 20, "type": "quantitative", "scale": {"domain": [20, 30], "range": [115, 892], "nice": false, "zero": false}, "axis": {"orient": "top", "offset": -92, "values": [20,21,22,23,24,25,26,27,28,29,30], "labels": false, "title": "Simulation", "titleFont": "Liberation Sans", "titleFontWeight": "bold", "titleFontSize": 18, "titleColor": "#000", "titleY": -35}},
  "x2": {"datum": 30},
  "y": {"datum": 0, "type": "quantitative", "scale": {"domain": [0, 200], "range": [156, 92], "nice": false, "zero": false}, "axis": {"orient": "right", "offset": -393, "values": [0, 100, 200], "labels": false, "title": null}},
  "y2": {"datum": 200}}},
{"data": {"name": "gxL"}, "mark": {"type": "rule", "color": "#e2e2e2", "strokeWidth": 1},
 "encoding": {"x": {"field": "t", "type": "quantitative", "scale": {"domain": [20, 30], "range": [115, 892], "nice": false, "zero": false}, "axis": null},
  "y": {"datum": 0, "type": "quantitative", "scale": {"domain": [0, 200], "range": [156, 92], "nice": false, "zero": false}, "axis": null}, "y2": {"datum": 200}}},
{"data": {"values": [{"v": 100}]}, "mark": {"type": "rule", "color": "#e2e2e2", "strokeWidth": 1},
 "encoding": {"y": {"field": "v", "type": "quantitative", "scale": {"domain": [0, 200], "range": [156, 92], "nice": false, "zero": false}, "axis": null},
  "x": {"datum": 20, "type": "quantitative", "scale": {"domain": [20, 30], "range": [115, 892], "nice": false, "zero": false}, "axis": null}, "x2": {"datum": 30}}},
{"data": {"values": [{}]}, "mark": {"type": "rule", "color": "#505050", "strokeWidth": 1.5},
 "encoding": {"x": {"datum": 28, "type": "quantitative", "scale": {"domain": [20, 30], "range": [115, 892], "nice": false, "zero": false}, "axis": null},
  "y": {"datum": 0, "type": "quantitative", "scale": {"domain": [0, 200], "range": [156, 92], "nice": false, "zero": false}, "axis": null}, "y2": {"datum": 200}}},
{"data": {"name": "L1"}, "mark": {"type": "line", "strokeWidth": 2},
 "encoding": {
  "x": {"field": "t", "type": "quantitative", "scale": {"domain": [20, 30], "range": [115, 892], "nice": false, "zero": false}, "axis": {"orient": "bottom", "offset": -554, "values": [20,21,22,23,24,25,26,27,28,29,30], "labelExpr": "datum.value + 'T'", "title": null}},
  "y": {"field": "v", "type": "quantitative", "scale": {"domain": [0, 200], "range": [156, 92], "nice": false, "zero": false}, "axis": {"orient": "left", "offset": -115, "values": [0, 100, 200], "labelExpr": "'' + datum.value", "title": "Weg in mm", "titleX": -47, "titleY": 168, "titleFontSize": 18}},
  "color": {"field": "s", "type": "nominal", "scale": {"domain": ["x(t)"], "range": ["#262a8f"]}, "legend": {"legendY": 92}}}},
{"data": {"values": [{}]}, "mark": {"type": "text", "text": "z = 28", "font": "Liberation Serif", "fontSize": 18, "align": "center", "baseline": "alphabetic", "color": "#333"},
 "encoding": {"x": {"datum": 28, "type": "quantitative", "scale": {"domain": [20, 30], "range": [115, 892], "nice": false, "zero": false}, "axis": null},
  "y": {"datum": 153, "type": "quantitative", "scale": {"domain": [0, 200], "range": [156, 92], "nice": false, "zero": false}, "axis": null}}},
{"data": {"values": [{}]}, "mark": {"type": "text", "text": "Einschwingphase ←", "font": "Liberation Sans", "fontSize": 12.5, "align": "right", "baseline": "middle", "color": "#222"},
 "encoding": {"x": {"datum": 28, "type": "quantitative", "scale": {"domain": [20, 30], "range": [115, 892], "nice": false, "zero": false}, "axis": null},
  "y": {"datum": 50, "type": "quantitative", "scale": {"domain": [0, 200], "range": [156, 92], "nice": false, "zero": false}, "axis": null}}},
{"data": {"values": [{}]}, "mark": {"type": "text", "text": "→ Stationärer Zustand", "font": "Liberation Sans", "fontSize": 12.5, "align": "left", "baseline": "middle", "color": "#222"},
 "encoding": {"x": {"datum": 28, "type": "quantitative", "scale": {"domain": [20, 30], "range": [115, 892], "nice": false, "zero": false}, "axis": null},
  "y": {"datum": 50, "type": "quantitative", "scale": {"domain": [0, 200], "range": [156, 92], "nice": false, "zero": false}, "axis": null}}},

{"data": {"values": [{}]}, "mark": {"type": "rect", "fill": "white", "stroke": "#555", "strokeWidth": 1},
 "encoding": {
  "x": {"datum": 0, "type": "quantitative", "scale": {"domain": [0, 3], "range": [933, 1164], "nice": false, "zero": false}, "axis": {"orient": "top", "offset": -92, "values": [0,1,2,3], "labels": false, "title": "Versuch", "titleFont": "Liberation Sans", "titleFontWeight": "bold", "titleFontSize": 18, "titleColor": "#000", "titleY": -35}},
  "x2": {"datum": 3},
  "y": {"datum": 0, "type": "quantitative", "scale": {"domain": [0, 20], "range": [156, 92], "nice": false, "zero": false}, "axis": {"orient": "right", "offset": -121, "values": [0, 10, 20], "labels": false, "title": null}},
  "y2": {"datum": 20}}},
{"data": {"name": "gxR"}, "mark": {"type": "rule", "color": "#e2e2e2", "strokeWidth": 1},
 "encoding": {"x": {"field": "t", "type": "quantitative", "scale": {"domain": [0, 3], "range": [933, 1164], "nice": false, "zero": false}, "axis": null},
  "y": {"datum": 0, "type": "quantitative", "scale": {"domain": [0, 20], "range": [156, 92], "nice": false, "zero": false}, "axis": null}, "y2": {"datum": 20}}},
{"data": {"values": [{"v": 10}]}, "mark": {"type": "rule", "color": "#e2e2e2", "strokeWidth": 1},
 "encoding": {"y": {"field": "v", "type": "quantitative", "scale": {"domain": [0, 20], "range": [156, 92], "nice": false, "zero": false}, "axis": null},
  "x": {"datum": 0, "type": "quantitative", "scale": {"domain": [0, 3], "range": [933, 1164], "nice": false, "zero": false}, "axis": null}, "x2": {"datum": 3}}},
{"data": {"name": "R1"}, "mark": {"type": "line", "strokeWidth": 2},
 "encoding": {
  "x": {"field": "t", "type": "quantitative", "scale": {"domain": [0, 3], "range": [933, 1164], "nice": false, "zero": false}, "axis": {"orient": "bottom", "offset": -554, "values": [0,1,2,3], "labelExpr": "datum.value == 0 ? '0' : datum.value + 'T'", "title": null}},
  "y": {"field": "v", "type": "quantitative", "scale": {"domain": [0, 20], "range": [156, 92], "nice": false, "zero": false}, "axis": {"orient": "left", "offset": -933, "values": [0, 10, 20], "labelExpr": "'' + datum.value", "title": null}},
  "color": {"field": "s", "type": "nominal", "scale": {"domain": ["x(t)"], "range": ["#262a8f"]}, "legend": null}}},

{"data": {"values": [{}]}, "mark": {"type": "rect", "fill": "white", "stroke": "#555", "strokeWidth": 1},
 "encoding": {
  "x": {"datum": 20, "type": "quantitative", "scale": {"domain": [20, 30], "range": [115, 892], "nice": false, "zero": false}, "axis": {"orient": "top", "offset": -187, "values": [20,21,22,23,24,25,26,27,28,29,30], "labels": false, "title": null}},
  "x2": {"datum": 30},
  "y": {"datum": -2, "type": "quantitative", "scale": {"domain": [-2, 1], "range": [252, 187], "nice": false, "zero": false}, "axis": {"orient": "right", "offset": -393, "values": [-2, -1, 0, 1], "labels": false, "title": null}},
  "y2": {"datum": 1}}},
{"data": {"name": "gxL"}, "mark": {"type": "rule", "color": "#e2e2e2", "strokeWidth": 1},
 "encoding": {"x": {"field": "t", "type": "quantitative", "scale": {"domain": [20, 30], "range": [115, 892], "nice": false, "zero": false}, "axis": null},
  "y": {"datum": -2, "type": "quantitative", "scale": {"domain": [-2, 1], "range": [252, 187], "nice": false, "zero": false}, "axis": null}, "y2": {"datum": 1}}},
{"data": {"values": [{"v": -1}, {"v": 0}]}, "mark": {"type": "rule", "color": "#e2e2e2", "strokeWidth": 1},
 "encoding": {"y": {"field": "v", "type": "quantitative", "scale": {"domain": [-2, 1], "range": [252, 187], "nice": false, "zero": false}, "axis": null},
  "x": {"datum": 20, "type": "quantitative", "scale": {"domain": [20, 30], "range": [115, 892], "nice": false, "zero": false}, "axis": null}, "x2": {"datum": 30}}},
{"data": {"values": [{}]}, "mark": {"type": "rule", "color": "#505050", "strokeWidth": 1.5},
 "encoding": {"x": {"datum": 28, "type": "quantitative", "scale": {"domain": [20, 30], "range": [115, 892], "nice": false, "zero": false}, "axis": null},
  "y": {"datum": -2, "type": "quantitative", "scale": {"domain": [-2, 1], "range": [252, 187], "nice": false, "zero": false}, "axis": null}, "y2": {"datum": 1}}},
{"data": {"name": "L2"}, "mark": {"type": "line", "strokeWidth": 1.6},
 "encoding": {
  "x": {"field": "t", "type": "quantitative", "scale": {"domain": [20, 30], "range": [115, 892], "nice": false, "zero": false}, "axis": {"orient": "bottom", "offset": -458, "values": [20,21,22,23,24,25,26,27,28,29,30], "labelExpr": "datum.value + 'T'", "title": null}},
  "y": {"field": "v", "type": "quantitative", "scale": {"domain": [-2, 1], "range": [252, 187], "nice": false, "zero": false}, "axis": {"orient": "left", "offset": -115, "values": [-2, -1, 0, 1], "labelExpr": "'' + datum.value", "title": null}},
  "color": {"field": "s", "type": "nominal", "scale": {"domain": ["y(t)", "q(t)"], "range": ["#7b2232", "#2e6b30"]}, "legend": {"legendY": 187}}}},

{"data": {"values": [{}]}, "mark": {"type": "rect", "fill": "white", "stroke": "#555", "strokeWidth": 1},
 "encoding": {
  "x": {"datum": 0, "type": "quantitative", "scale": {"domain": [0, 3], "range": [933, 1164], "nice": false, "zero": false}, "axis": {"orient": "top", "offset": -187, "values": [0,1,2,3], "labels": false, "title": null}},
  "x2": {"datum": 3},
  "y": {"datum": -2, "type": "quantitative", "scale": {"domain": [-2, 1], "range": [252, 187], "nice": false, "zero": false}, "axis": {"orient": "right", "offset": -121, "values": [-2, -1, 0, 1], "labels": false, "title": null}},
  "y2": {"datum": 1}}},
{"data": {"name": "gxR"}, "mark": {"type": "rule", "color": "#e2e2e2", "strokeWidth": 1},
 "encoding": {"x": {"field": "t", "type": "quantitative", "scale": {"domain": [0, 3], "range": [933, 1164], "nice": false, "zero": false}, "axis": null},
  "y": {"datum": -2, "type": "quantitative", "scale": {"domain": [-2, 1], "range": [252, 187], "nice": false, "zero": false}, "axis": null}, "y2": {"datum": 1}}},
{"data": {"values": [{"v": -1}, {"v": 0}]}, "mark": {"type": "rule", "color": "#e2e2e2", "strokeWidth": 1},
 "encoding": {"y": {"field": "v", "type": "quantitative", "scale": {"domain": [-2, 1], "range": [252, 187], "nice": false, "zero": false}, "axis": null},
  "x": {"datum": 0, "type": "quantitative", "scale": {"domain": [0, 3], "range": [933, 1164], "nice": false, "zero": false}, "axis": null}, "x2": {"datum": 3}}},
{"data": {"name": "R2"}, "mark": {"type": "line", "strokeWidth": 1.6},
 "encoding": {
  "x": {"field": "t", "type": "quantitative", "scale": {"domain": [0, 3], "range": [933, 1164], "nice": false, "zero": false}, "axis": {"orient": "bottom", "offset": -458, "values": [0,1,2,3], "labelExpr": "datum.value == 0 ? '0' : datum.value + 'T'", "title": null}},
  "y": {"field": "v", "type": "quantitative", "scale": {"domain": [-2, 1], "range": [252, 187], "nice": false, "zero": false}, "axis": {"orient": "left", "offset": -933, "values": [-2, -1, 0, 1], "labelExpr": "'' + datum.value", "title": null}},
  "color": {"field": "s", "type": "nominal", "scale": {"domain": ["y(t)", "q(t)"], "range": ["#7b2232", "#2e6b30"]}, "legend": null}}},

{"data": {"values": [{}]}, "mark": {"type": "rect", "fill": "white", "stroke": "#555", "strokeWidth": 1},
 "encoding": {
  "x": {"datum": 20, "type": "quantitative", "scale": {"domain": [20, 30], "range": [115, 892], "nice": false, "zero": false}, "axis": {"orient": "top", "offset": -282, "values": [20,21,22,23,24,25,26,27,28,29,30], "labels": false, "title": null}},
  "x2": {"datum": 30},
  "y": {"datum": -200, "type": "quantitative", "scale": {"domain": [-200, 150], "range": [442, 282], "nice": false, "zero": false}, "axis": {"orient": "right", "offset": -393, "values": [-200, -100, 0, 100], "labels": false, "title": null}},
  "y2": {"datum": 150}}},
{"data": {"name": "gxL"}, "mark": {"type": "rule", "color": "#e2e2e2", "strokeWidth": 1},
 "encoding": {"x": {"field": "t", "type": "quantitative", "scale": {"domain": [20, 30], "range": [115, 892], "nice": false, "zero": false}, "axis": null},
  "y": {"datum": -200, "type": "quantitative", "scale": {"domain": [-200, 150], "range": [442, 282], "nice": false, "zero": false}, "axis": null}, "y2": {"datum": 150}}},
{"data": {"values": [{"v": -100}, {"v": 0}, {"v": 100}]}, "mark": {"type": "rule", "color": "#e2e2e2", "strokeWidth": 1},
 "encoding": {"y": {"field": "v", "type": "quantitative", "scale": {"domain": [-200, 150], "range": [442, 282], "nice": false, "zero": false}, "axis": null},
  "x": {"datum": 20, "type": "quantitative", "scale": {"domain": [20, 30], "range": [115, 892], "nice": false, "zero": false}, "axis": null}, "x2": {"datum": 30}}},
{"data": {"values": [{}]}, "mark": {"type": "rule", "color": "#505050", "strokeWidth": 1.5},
 "encoding": {"x": {"datum": 28, "type": "quantitative", "scale": {"domain": [20, 30], "range": [115, 892], "nice": false, "zero": false}, "axis": null},
  "y": {"datum": -200, "type": "quantitative", "scale": {"domain": [-200, 150], "range": [442, 282], "nice": false, "zero": false}, "axis": null}, "y2": {"datum": 150}}},
{"data": {"values": [{}]}, "mark": {"type": "rule", "color": "#808080", "strokeWidth": 2, "strokeDash": [8, 5]},
 "encoding": {"y": {"datum": 96.8, "type": "quantitative", "scale": {"domain": [-200, 150], "range": [442, 282], "nice": false, "zero": false}, "axis": null},
  "x": {"datum": 20, "type": "quantitative", "scale": {"domain": [20, 30], "range": [115, 892], "nice": false, "zero": false}, "axis": null}, "x2": {"datum": 30}}},
{"data": {"name": "L3"}, "mark": {"type": "line"},
 "encoding": {
  "x": {"field": "t", "type": "quantitative", "scale": {"domain": [20, 30], "range": [115, 892], "nice": false, "zero": false}, "axis": {"orient": "bottom", "offset": -268, "values": [20,21,22,23,24,25,26,27,28,29,30], "labelExpr": "datum.value + 'T'", "title": null}},
  "y": {"field": "v", "type": "quantitative", "scale": {"domain": [-200, 150], "range": [442, 282], "nice": false, "zero": false}, "axis": {"orient": "left", "offset": -115, "values": [-200, -100, 0, 100], "labelExpr": "'' + datum.value", "title": "Geschwindigkeit in mm/s", "titleX": -47, "titleFontSize": 16}},
  "color": {"field": "s", "type": "nominal", "scale": {"domain": ["ẋ(t)", "ẏ(t)"], "range": ["#262a8f", "#7b2232"]}, "legend": {"legendY": 282}},
  "strokeWidth": {"field": "s", "type": "nominal", "scale": {"domain": ["ẋ(t)", "ẏ(t)"], "range": [2, 1.6]}, "legend": null}}},
{"data": {"values": [{}]}, "mark": {"type": "text", "text": "v", "font": "Liberation Serif", "fontStyle": "italic", "fontSize": 16, "align": "left", "baseline": "alphabetic", "color": "#333"},
 "encoding": {"x": {"datum": 20.49, "type": "quantitative", "scale": {"domain": [20, 30], "range": [115, 892], "nice": false, "zero": false}, "axis": null},
  "y": {"datum": 117, "type": "quantitative", "scale": {"domain": [-200, 150], "range": [442, 282], "nice": false, "zero": false}, "axis": null}}},
{"data": {"values": [{}]}, "mark": {"type": "text", "text": "F", "font": "Liberation Serif", "fontStyle": "italic", "fontSize": 10, "align": "left", "baseline": "alphabetic", "dx": 8, "dy": 3, "color": "#333"},
 "encoding": {"x": {"datum": 20.49, "type": "quantitative", "scale": {"domain": [20, 30], "range": [115, 892], "nice": false, "zero": false}, "axis": null},
  "y": {"datum": 117, "type": "quantitative", "scale": {"domain": [-200, 150], "range": [442, 282], "nice": false, "zero": false}, "axis": null}}},
{"data": {"values": [{}]}, "mark": {"type": "text", "text": "= 96.8", "font": "Liberation Serif", "fontSize": 15, "align": "left", "baseline": "alphabetic", "dx": 21, "color": "#333"},
 "encoding": {"x": {"datum": 20.49, "type": "quantitative", "scale": {"domain": [20, 30], "range": [115, 892], "nice": false, "zero": false}, "axis": null},
  "y": {"datum": 117, "type": "quantitative", "scale": {"domain": [-200, 150], "range": [442, 282], "nice": false, "zero": false}, "axis": null}}},
{"data": {"values": [{}]}, "mark": {"type": "text", "text": "mm", "font": "Liberation Serif", "fontStyle": "italic", "fontSize": 9, "align": "center", "baseline": "alphabetic", "dx": 68, "dy": -6, "color": "#333"},
 "encoding": {"x": {"datum": 20.49, "type": "quantitative", "scale": {"domain": [20, 30], "range": [115, 892], "nice": false, "zero": false}, "axis": null},
  "y": {"datum": 117, "type": "quantitative", "scale": {"domain": [-200, 150], "range": [442, 282], "nice": false, "zero": false}, "axis": null}}},
{"data": {"values": [{}]}, "mark": {"type": "text", "text": "s", "font": "Liberation Serif", "fontStyle": "italic", "fontSize": 9, "align": "center", "baseline": "alphabetic", "dx": 68, "dy": 3, "color": "#333"},
 "encoding": {"x": {"datum": 20.49, "type": "quantitative", "scale": {"domain": [20, 30], "range": [115, 892], "nice": false, "zero": false}, "axis": null},
  "y": {"datum": 117, "type": "quantitative", "scale": {"domain": [-200, 150], "range": [442, 282], "nice": false, "zero": false}, "axis": null}}},

{"data": {"values": [{}]}, "mark": {"type": "rect", "fill": "white", "stroke": "#555", "strokeWidth": 1},
 "encoding": {
  "x": {"datum": 0, "type": "quantitative", "scale": {"domain": [0, 3], "range": [933, 1164], "nice": false, "zero": false}, "axis": {"orient": "top", "offset": -282, "values": [0,1,2,3], "labels": false, "title": null}},
  "x2": {"datum": 3},
  "y": {"datum": -200, "type": "quantitative", "scale": {"domain": [-200, 150], "range": [442, 282], "nice": false, "zero": false}, "axis": {"orient": "right", "offset": -121, "values": [-200, -100, 0, 100], "labels": false, "title": null}},
  "y2": {"datum": 150}}},
{"data": {"name": "gxR"}, "mark": {"type": "rule", "color": "#e2e2e2", "strokeWidth": 1},
 "encoding": {"x": {"field": "t", "type": "quantitative", "scale": {"domain": [0, 3], "range": [933, 1164], "nice": false, "zero": false}, "axis": null},
  "y": {"datum": -200, "type": "quantitative", "scale": {"domain": [-200, 150], "range": [442, 282], "nice": false, "zero": false}, "axis": null}, "y2": {"datum": 150}}},
{"data": {"values": [{"v": -100}, {"v": 0}, {"v": 100}]}, "mark": {"type": "rule", "color": "#e2e2e2", "strokeWidth": 1},
 "encoding": {"y": {"field": "v", "type": "quantitative", "scale": {"domain": [-200, 150], "range": [442, 282], "nice": false, "zero": false}, "axis": null},
  "x": {"datum": 0, "type": "quantitative", "scale": {"domain": [0, 3], "range": [933, 1164], "nice": false, "zero": false}, "axis": null}, "x2": {"datum": 3}}},
{"data": {"values": [{}]}, "mark": {"type": "rule", "color": "#808080", "strokeWidth": 2, "strokeDash": [8, 5]},
 "encoding": {"y": {"datum": 97.1, "type": "quantitative", "scale": {"domain": [-200, 150], "range": [442, 282], "nice": false, "zero": false}, "axis": null},
  "x": {"datum": 0, "type": "quantitative", "scale": {"domain": [0, 3], "range": [933, 1164], "nice": false, "zero": false}, "axis": null}, "x2": {"datum": 3}}},
{"data": {"name": "R3"}, "mark": {"type": "line"},
 "encoding": {
  "x": {"field": "t", "type": "quantitative", "scale": {"domain": [0, 3], "range": [933, 1164], "nice": false, "zero": false}, "axis": {"orient": "bottom", "offset": -268, "values": [0,1,2,3], "labelExpr": "datum.value == 0 ? '0' : datum.value + 'T'", "title": null}},
  "y": {"field": "v", "type": "quantitative", "scale": {"domain": [-200, 150], "range": [442, 282], "nice": false, "zero": false}, "axis": {"orient": "left", "offset": -933, "values": [-200, -100, 0, 100], "labelExpr": "'' + datum.value", "title": null}},
  "color": {"field": "s", "type": "nominal", "scale": {"domain": ["ẋ(t)", "ẏ(t)"], "range": ["#262a8f", "#7b2232"]}, "legend": null},
  "strokeWidth": {"field": "s", "type": "nominal", "scale": {"domain": ["ẋ(t)", "ẏ(t)"], "range": [2, 1.6]}, "legend": null}}},
{"data": {"values": [{}]}, "mark": {"type": "text", "text": "v", "font": "Liberation Serif", "fontStyle": "italic", "fontSize": 16, "align": "left", "baseline": "alphabetic", "color": "#333"},
 "encoding": {"x": {"datum": 0.195, "type": "quantitative", "scale": {"domain": [0, 3], "range": [933, 1164], "nice": false, "zero": false}, "axis": null},
  "y": {"datum": 117, "type": "quantitative", "scale": {"domain": [-200, 150], "range": [442, 282], "nice": false, "zero": false}, "axis": null}}},
{"data": {"values": [{}]}, "mark": {"type": "text", "text": "F", "font": "Liberation Serif", "fontStyle": "italic", "fontSize": 10, "align": "left", "baseline": "alphabetic", "dx": 8, "dy": 3, "color": "#333"},
 "encoding": {"x": {"datum": 0.195, "type": "quantitative", "scale": {"domain": [0, 3], "range": [933, 1164], "nice": false, "zero": false}, "axis": null},
  "y": {"datum": 117, "type": "quantitative", "scale": {"domain": [-200, 150], "range": [442, 282], "nice": false, "zero": false}, "axis": null}}},
{"data": {"values": [{}]}, "mark": {"type": "text", "text": "= 97.1", "font": "Liberation Serif", "fontSize": 15, "align": "left", "baseline": "alphabetic", "dx": 21, "color": "#333"},
 "encoding": {"x": {"datum": 0.195, "type": "quantitative", "scale": {"domain": [0, 3], "range": [933, 1164], "nice": false, "zero": false}, "axis": null},
  "y": {"datum": 117, "type": "quantitative", "scale": {"domain": [-200, 150], "range": [442, 282], "nice": false, "zero": false}, "axis": null}}},
{"data": {"values": [{}]}, "mark": {"type": "text", "text": "mm", "font": "Liberation Serif", "fontStyle": "italic", "fontSize": 9, "align": "center", "baseline": "alphabetic", "dx": 68, "dy": -6, "color": "#333"},
 "encoding": {"x": {"datum": 0.195, "type": "quantitative", "scale": {"domain": [0, 3], "range": [933, 1164], "nice": false, "zero": false}, "axis": null},
  "y": {"datum": 117, "type": "quantitative", "scale": {"domain": [-200, 150], "range": [442, 282], "nice": false, "zero": false}, "axis": null}}},
{"data": {"values": [{}]}, "mark": {"type": "text", "text": "s", "font": "Liberation Serif", "fontStyle": "italic", "fontSize": 9, "align": "center", "baseline": "alphabetic", "dx": 68, "dy": 3, "color": "#333"},
 "encoding": {"x": {"datum": 0.195, "type": "quantitative", "scale": {"domain": [0, 3], "range": [933, 1164], "nice": false, "zero": false}, "axis": null},
  "y": {"datum": 117, "type": "quantitative", "scale": {"domain": [-200, 150], "range": [442, 282], "nice": false, "zero": false}, "axis": null}}},

{"data": {"values": [{}]}, "mark": {"type": "rect", "fill": "white", "stroke": "#555", "strokeWidth": 1},
 "encoding": {
  "x": {"datum": 20, "type": "quantitative", "scale": {"domain": [20, 30], "range": [115, 892], "nice": false, "zero": false}, "axis": {"orient": "top", "offset": -473, "values": [20,21,22,23,24,25,26,27,28,29,30], "labels": false, "title": null}},
  "x2": {"datum": 30},
  "y": {"datum": -10, "type": "quantitative", "scale": {"domain": [-10, 40], "range": [632, 473], "nice": false, "zero": false}, "axis": {"orient": "right", "offset": -393, "values": [-10, 0, 10, 20, 30, 40], "labels": false, "title": null}},
  "y2": {"datum": 40}}},
{"data": {"name": "gxL"}, "mark": {"type": "rule", "color": "#e2e2e2", "strokeWidth": 1},
 "encoding": {"x": {"field": "t", "type": "quantitative", "scale": {"domain": [20, 30], "range": [115, 892], "nice": false, "zero": false}, "axis": null},
  "y": {"datum": -10, "type": "quantitative", "scale": {"domain": [-10, 40], "range": [632, 473], "nice": false, "zero": false}, "axis": null}, "y2": {"datum": 40}}},
{"data": {"values": [{"v": 0}, {"v": 10}, {"v": 20}, {"v": 30}]}, "mark": {"type": "rule", "color": "#e2e2e2", "strokeWidth": 1},
 "encoding": {"y": {"field": "v", "type": "quantitative", "scale": {"domain": [-10, 40], "range": [632, 473], "nice": false, "zero": false}, "axis": null},
  "x": {"datum": 20, "type": "quantitative", "scale": {"domain": [20, 30], "range": [115, 892], "nice": false, "zero": false}, "axis": null}, "x2": {"datum": 30}}},
{"data": {"values": [{}]}, "mark": {"type": "rule", "color": "#505050", "strokeWidth": 1.5},
 "encoding": {"x": {"datum": 28, "type": "quantitative", "scale": {"domain": [20, 30], "range": [115, 892], "nice": false, "zero": false}, "axis": null},
  "y": {"datum": -10, "type": "quantitative", "scale": {"domain": [-10, 40], "range": [632, 473], "nice": false, "zero": false}, "axis": null}, "y2": {"datum": 40}}},
{"data": {"name": "L4"}, "mark": {"type": "line"},
 "encoding": {
  "x": {"field": "t", "type": "quantitative", "scale": {"domain": [20, 30], "range": [115, 892], "nice": false, "zero": false}, "axis": {"orient": "bottom", "offset": -78, "values": [20,21,22,23,24,25,26,27,28,29,30], "labelExpr": "datum.value + 'T'", "title": "Zeit in nT", "titleX": 639.5, "titleY": 37, "titleFontSize": 18, "titleAngle": 0}},
  "y": {"field": "v", "type": "quantitative", "scale": {"domain": [-10, 40], "range": [632, 473], "nice": false, "zero": false}, "axis": {"orient": "left", "offset": -115, "values": [-10, 0, 10, 20, 30, 40], "labelExpr": "'' + datum.value", "title": "Beschleunigung in m/s²", "titleX": -47, "titleFontSize": 16}},
  "color": {"field": "s", "type": "nominal", "scale": {"domain": ["ẍ(t)", "ÿ(t)"], "range": ["#262a8f", "#7b2232"]}, "legend": {"legendY": 473}}}},

{"data": {"values": [{}]}, "mark": {"type": "rect", "fill": "white", "stroke": "#555", "strokeWidth": 1},
 "encoding": {
  "x": {"datum": 0, "type": "quantitative", "scale": {"domain": [0, 3], "range": [933, 1164], "nice": false, "zero": false}, "axis": {"orient": "top", "offset": -473, "values": [0,1,2,3], "labels": false, "title": null}},
  "x2": {"datum": 3},
  "y": {"datum": -10, "type": "quantitative", "scale": {"domain": [-10, 40], "range": [632, 473], "nice": false, "zero": false}, "axis": {"orient": "right", "offset": -121, "values": [-10, 0, 10, 20, 30, 40], "labels": false, "title": null}},
  "y2": {"datum": 40}}},
{"data": {"name": "gxR"}, "mark": {"type": "rule", "color": "#e2e2e2", "strokeWidth": 1},
 "encoding": {"x": {"field": "t", "type": "quantitative", "scale": {"domain": [0, 3], "range": [933, 1164], "nice": false, "zero": false}, "axis": null},
  "y": {"datum": -10, "type": "quantitative", "scale": {"domain": [-10, 40], "range": [632, 473], "nice": false, "zero": false}, "axis": null}, "y2": {"datum": 40}}},
{"data": {"values": [{"v": 0}, {"v": 10}, {"v": 20}, {"v": 30}]}, "mark": {"type": "rule", "color": "#e2e2e2", "strokeWidth": 1},
 "encoding": {"y": {"field": "v", "type": "quantitative", "scale": {"domain": [-10, 40], "range": [632, 473], "nice": false, "zero": false}, "axis": null},
  "x": {"datum": 0, "type": "quantitative", "scale": {"domain": [0, 3], "range": [933, 1164], "nice": false, "zero": false}, "axis": null}, "x2": {"datum": 3}}},
{"data": {"name": "R4"}, "mark": {"type": "line"},
 "encoding": {
  "x": {"field": "t", "type": "quantitative", "scale": {"domain": [0, 3], "range": [933, 1164], "nice": false, "zero": false}, "axis": {"orient": "bottom", "offset": -78, "values": [0,1,2,3], "labelExpr": "datum.value == 0 ? '0' : datum.value + 'T'", "title": null}},
  "y": {"field": "v", "type": "quantitative", "scale": {"domain": [-10, 40], "range": [632, 473], "nice": false, "zero": false}, "axis": {"orient": "left", "offset": -933, "values": [-10, 0, 10, 20, 30, 40], "labelExpr": "'' + datum.value", "title": null}},
  "color": {"field": "s", "type": "nominal", "scale": {"domain": ["ẍ(t)", "ÿ(t)"], "range": ["#262a8f", "#6e1626"]}, "legend": null},
  "strokeWidth": {"field": "s", "type": "nominal", "scale": {"domain": ["ẍ(t)", "ÿ(t)"], "range": [1.5, 3]}, "legend": null}}}
]
}
